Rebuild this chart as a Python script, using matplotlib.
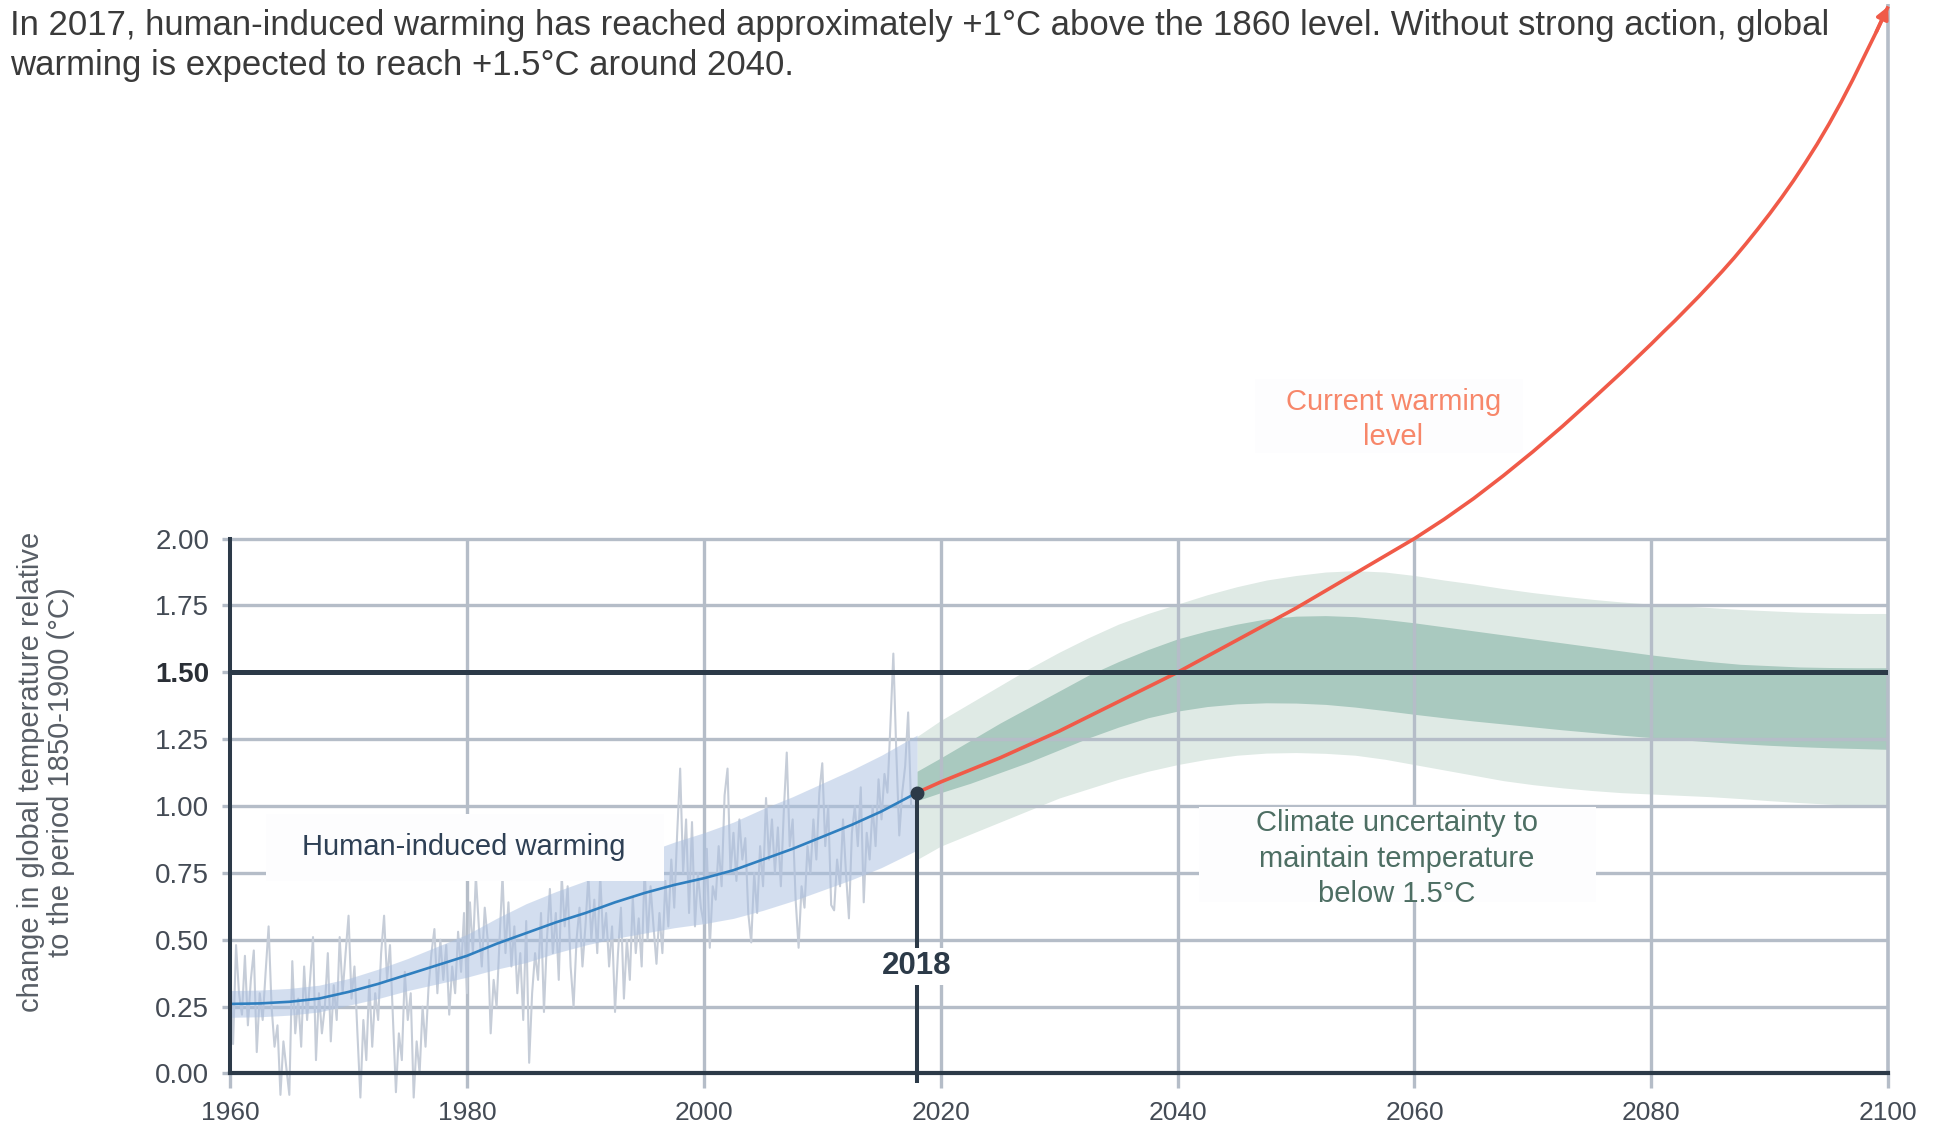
import numpy as np
import matplotlib
matplotlib.use("Agg")
import matplotlib.pyplot as plt
from matplotlib.patches import Rectangle

plt.rcParams['font.family'] = ['Liberation Sans', 'DejaVu Sans']

# --- data -----------------------------------------------------------------
# observed anomalies, four readings a year starting at 1960.0
obs_start = 1960.0
obs_step = 0.25
obs_values = [
    0.40, 0.11, 0.48, 0.30,   # 1960
    0.22, 0.44, 0.18, 0.35,
    0.46, 0.08, 0.30, 0.20,
    0.38, 0.55, 0.25, 0.10,
    0.18, -0.08, 0.12, 0.02,
    -0.08, 0.42, 0.15, 0.28,  # 1965
    0.10, 0.40, 0.20, 0.35,
    0.51, 0.05, 0.30, 0.15,
    0.25, 0.45, 0.12, 0.33,
    0.20, 0.51, 0.30, 0.45,
    0.59, 0.28, 0.40, 0.15,   # 1970
    -0.09, 0.20, 0.05, 0.35,
    0.10, 0.30, 0.20, 0.45,
    0.59, 0.35, 0.48, 0.20,
    -0.07, 0.15, 0.05, 0.38,
    0.20, 0.30, -0.09, 0.12,  # 1975
    0.00, 0.25, 0.10, 0.32,
    0.45, 0.54, 0.30, 0.50,
    0.35, 0.48, 0.22, 0.40,
    0.30, 0.53, 0.38, 0.60,
    0.30, 0.64, 0.45, 0.74,   # 1980
    0.55, 0.40, 0.62, 0.50,
    0.15, 0.35, 0.25, 0.50,
    0.74, 0.45, 0.64, 0.40,
    0.55, 0.30, 0.45, 0.20,
    0.57, 0.04, 0.30, 0.45,   # 1985
    0.35, 0.60, 0.23, 0.50,
    0.69, 0.45, 0.60, 0.35,
    0.74, 0.55, 0.70, 0.40,
    0.25, 0.50, 0.62, 0.40,
    0.55, 0.74, 0.50, 0.65,   # 1990
    0.45, 0.74, 0.50, 0.60,
    0.40, 0.55, 0.23, 0.45,
    0.62, 0.28, 0.50, 0.35,
    0.66, 0.45, 0.58, 0.40,
    0.77, 0.50, 0.70, 0.55,   # 1995
    0.41, 0.60, 0.45, 0.72,
    0.55, 0.80, 0.62, 0.90,
    1.14, 0.75, 0.95, 0.60,
    0.94, 0.55, 0.75, 0.62,
    0.56, 0.84, 0.47, 0.70,   # 2000
    0.65, 0.85, 0.70, 1.04,
    1.14, 0.75, 0.90, 0.72,
    0.95, 0.80, 0.88, 0.60,
    0.49, 0.75, 0.60, 0.85,
    0.70, 1.03, 0.80, 0.95,   # 2005
    0.75, 0.92, 0.70, 0.98,
    1.20, 0.85, 0.95, 0.65,
    0.47, 0.70, 0.62, 0.85,
    0.75, 0.95, 0.80, 1.05,
    1.16, 0.85, 1.00, 0.63,   # 2010
    0.61, 0.80, 0.70, 0.95,
    0.75, 0.58, 0.90, 1.00,
    0.85, 1.07, 0.64, 0.90,
    0.80, 1.00, 0.85, 1.10,
    0.95, 1.12, 1.05, 1.30,   # 2015
    1.57, 1.20, 0.89, 1.05,
    1.15, 1.35, 1.00,
]

# human-induced warming estimate and its likely range (half width)
trend_years = [1960, 1962.5, 1965, 1967.5, 1970, 1972.5, 1975, 1977.5, 1980,
               1982.5, 1985, 1987.5, 1990, 1992.5, 1995, 1997.5, 2000, 2002.5,
               2005, 2007.5, 2010, 2012.5, 2015, 2018]
trend_values = [0.26, 0.262, 0.268, 0.28, 0.305, 0.335, 0.37, 0.405, 0.44,
                0.485, 0.525, 0.565, 0.60, 0.64, 0.675, 0.705, 0.73, 0.76,
                0.80, 0.84, 0.885, 0.93, 0.98, 1.05]
trend_spread = [0.05, 0.05, 0.05, 0.05, 0.05, 0.055, 0.06, 0.07, 0.08,
                0.095, 0.11, 0.115, 0.12, 0.135, 0.15, 0.16, 0.17, 0.18,
                0.19, 0.195, 0.20, 0.205, 0.21, 0.215]

now_year = 2018

# warming if the current rate continues
current_years = [2018, 2020, 2022.5, 2025, 2027.5, 2030, 2032.5, 2035, 2037.5,
                 2040, 2042.5, 2045, 2047.5, 2050, 2052.5, 2055, 2057.5, 2060,
                 2062.5, 2065, 2067.5, 2070, 2072.5, 2075, 2077.5, 2080,
                 2081, 2082, 2083, 2084, 2085, 2086, 2087, 2088, 2089, 2090,
                 2091, 2092, 2093, 2094, 2095, 2096, 2097, 2098, 2099, 2100]
current_values = [1.05, 1.09, 1.135, 1.18, 1.23, 1.28, 1.335, 1.39, 1.445,
                  1.50, 1.56, 1.62, 1.68, 1.74, 1.805, 1.87, 1.935, 2.00,
                  2.072, 2.15, 2.235, 2.325, 2.42, 2.52, 2.622, 2.728,
                  2.772, 2.815, 2.86, 2.905, 2.952, 3.00, 3.05, 3.103, 3.158,
                  3.215, 3.275, 3.338, 3.405, 3.475, 3.55, 3.63, 3.715, 3.805,
                  3.895, 3.99]

# pathways that hold warming near 1.5 degC
path_years = [2018, 2020, 2022.5, 2025, 2027.5, 2030, 2032.5, 2035, 2037.5,
              2040, 2042.5, 2045, 2047.5, 2050, 2052.5, 2055, 2057.5, 2060,
              2062.5, 2065, 2067.5, 2070, 2072.5, 2075, 2077.5, 2080, 2082.5,
              2085, 2087.5, 2090, 2092.5, 2095, 2097.5, 2100]
outer_high = [1.26, 1.32, 1.385, 1.45, 1.515, 1.575, 1.63, 1.68, 1.72,
              1.755, 1.79, 1.82, 1.845, 1.862, 1.875, 1.88, 1.875, 1.862,
              1.845, 1.83, 1.813, 1.798, 1.785, 1.773, 1.763, 1.755, 1.748,
              1.742, 1.735, 1.73, 1.725, 1.722, 1.72, 1.72]
outer_low = [0.80, 0.85, 0.895, 0.94, 0.985, 1.03, 1.065, 1.10, 1.13,
             1.155, 1.175, 1.19, 1.198, 1.20, 1.197, 1.19, 1.175, 1.155,
             1.135, 1.115, 1.095, 1.08, 1.068, 1.058, 1.05, 1.045, 1.04,
             1.035, 1.028, 1.02, 1.013, 1.007, 1.002, 1.00]
inner_high = [1.13, 1.18, 1.245, 1.31, 1.37, 1.43, 1.49, 1.54, 1.585,
              1.625, 1.655, 1.68, 1.70, 1.71, 1.712, 1.708, 1.698, 1.685,
              1.67, 1.655, 1.64, 1.625, 1.61, 1.595, 1.58, 1.565, 1.552,
              1.54, 1.53, 1.525, 1.52, 1.518, 1.517, 1.517]
inner_low = [1.02, 1.05, 1.085, 1.125, 1.165, 1.21, 1.255, 1.295, 1.33,
             1.355, 1.372, 1.382, 1.386, 1.385, 1.38, 1.37, 1.357, 1.343,
             1.33, 1.318, 1.307, 1.296, 1.285, 1.275, 1.265, 1.256, 1.248,
             1.24, 1.233, 1.227, 1.222, 1.218, 1.215, 1.212]

x_ticks = [1960, 1980, 2000, 2020, 2040, 2060, 2080, 2100]
y_ticks = [0.00, 0.25, 0.50, 0.75, 1.00, 1.25, 1.50, 1.75, 2.00]
limit = 1.5

# --- styling --------------------------------------------------------------
DARK = '#2c3a48'
GRID = '#b5bdc8'
TICKTXT = '#444b55'
RED = '#f05a48'

fig = plt.figure(figsize=(19.37, 11.25), dpi=100)
ax = fig.add_axes([0.1188, 0.0458, 0.8560, 0.9509])
ax.set_xlim(1960, 2100)
ax.set_ylim(0, 4.0)

# grid, drawn by hand so it stops at 2.00
for y in y_ticks[1:]:
    if y != limit:
        ax.hlines(y, 1960, 2100, color=GRID, lw=2.4, zorder=1.5)
for x in x_ticks[1:-1]:
    ax.vlines(x, 0, y_ticks[-1], color=GRID, lw=2.4, zorder=1.5)
ax.vlines(x_ticks[-1], 0, 4.0, color=GRID, lw=2.6, zorder=1.5, clip_on=False)

# 1.5 degC pathway bands
ax.fill_between(path_years, outer_low, outer_high, color='#dfeae5', lw=0, zorder=1)
ax.fill_between(path_years, inner_low, inner_high, color='#a9c9bf', lw=0, zorder=1.2)

# observations + human-induced warming
obs_years = obs_start + obs_step * np.arange(len(obs_values))
ax.plot(obs_years, obs_values, color='#c6cdd8', lw=1.5, zorder=2, clip_on=False)
lo = np.array(trend_values) - np.array(trend_spread)
hi = np.array(trend_values) + np.array(trend_spread)
ax.fill_between(trend_years, lo, hi, color='#a9bfe0', alpha=0.5, lw=0, zorder=3)
ax.plot(trend_years, trend_values, color='#2f7fbf', lw=1.9, zorder=4)

# current warming rate
ax.plot(current_years, current_values, color=RED, lw=2.6, zorder=5,
        clip_on=False, solid_capstyle='butt', solid_joinstyle='round')
ax.annotate('', xy=(current_years[-1], current_values[-1]),
            xytext=(current_years[-2], current_values[-2]),
            arrowprops=dict(arrowstyle='-|>', color=RED, lw=2.6,
                            mutation_scale=18, shrinkA=0, shrinkB=0),
            annotation_clip=False, zorder=5)

# 1.5 degC limit
ax.hlines(limit, 1960, 2100, color=DARK, lw=3.6, zorder=6)

# today's marker
now_val = trend_values[-1]
ax.vlines(now_year, -0.037, now_val, color=DARK, lw=2.9, zorder=6, clip_on=False)
ax.plot([now_year], [now_val], 'o', color=DARK, ms=9, zorder=7)
ax.text(now_year, 0.40, str(now_year), ha='center', va='center',
        fontsize=22.5, fontweight='bold', color=DARK, zorder=7,
        bbox=dict(boxstyle='square,pad=0.12', fc='white', ec='none'))

# annotation boxes
ax.add_patch(Rectangle((1963.0, 0.72), 33.6, 0.25, fc='#fdfdfe', ec='none', zorder=8))
ax.text(1979.7, 0.845, 'Human-induced warming', ha='center', va='center',
        fontsize=21, color='#2e4055', zorder=9)

ax.add_patch(Rectangle((2041.8, 0.64), 33.5, 0.355, fc='#fdfdfe', ec='none', zorder=8))
ax.text(2058.5, 0.803, 'Climate uncertainty to\nmaintain temperature\nbelow 1.5°C',
        ha='center', va='center', fontsize=21, color='#4d6e63', linespacing=1.33,
        zorder=9)

ax.add_patch(Rectangle((2046.5, 2.32), 22.7, 0.275, fc='#fdfdfe', ec='none', zorder=8))
ax.text(2058.2, 2.445, 'Current warming\nlevel', ha='center', va='center',
        fontsize=21, color='#f7876a', linespacing=1.33, zorder=9)

# axes, ticks
for side in ('top', 'right'):
    ax.spines[side].set_visible(False)
ax.spines['left'].set_bounds(0, y_ticks[-1])
ax.spines['left'].set_color(DARK)
ax.spines['left'].set_linewidth(2.9)
ax.spines['bottom'].set_color(DARK)
ax.spines['bottom'].set_linewidth(3.0)
ax.spines['left'].set_zorder(6)
ax.spines['bottom'].set_zorder(6)

ax.set_xticks(x_ticks)
ax.set_xticklabels([str(x) for x in x_ticks])
ax.set_yticks(y_ticks)
ax.set_yticklabels([f'{y:.2f}' for y in y_ticks])
ax.tick_params(axis='y', length=6, width=2.4, color=GRID, pad=9,
               labelsize=20, labelcolor=TICKTXT)
ax.tick_params(axis='x', length=11, width=2.4, color=GRID, pad=9,
               labelsize=19, labelcolor=TICKTXT)
for t, y in zip(ax.yaxis.get_major_ticks(), y_ticks):
    if y in (0.0, limit):
        t.tick1line.set_color(DARK)
    if y == limit:
        t.label1.set_fontweight('bold')
        t.label1.set_color('#2a2f36')
ax.xaxis.get_major_ticks()[0].tick1line.set_color(DARK)

# headline and axis title
fig.text(10 / 1937, 1 - 9 / 1125,
         'In 2017, human-induced warming has reached approximately +1°C above the 1860 level. '
         'Without strong action, global\nwarming is expected to reach +1.5°C around 2040.',
         ha='left', va='top', fontsize=25, color='#3a3a3a', linespacing=1.28)
fig.text(46 / 1937, 1 - 772 / 1125,
         'change in global temperature relative\nto the period 1850-1900 (°C)',
         rotation=90, ha='center', va='center', multialignment='center',
         fontsize=21, color='#585e66', linespacing=1.12)

fig.savefig('out.png', dpi=100)
